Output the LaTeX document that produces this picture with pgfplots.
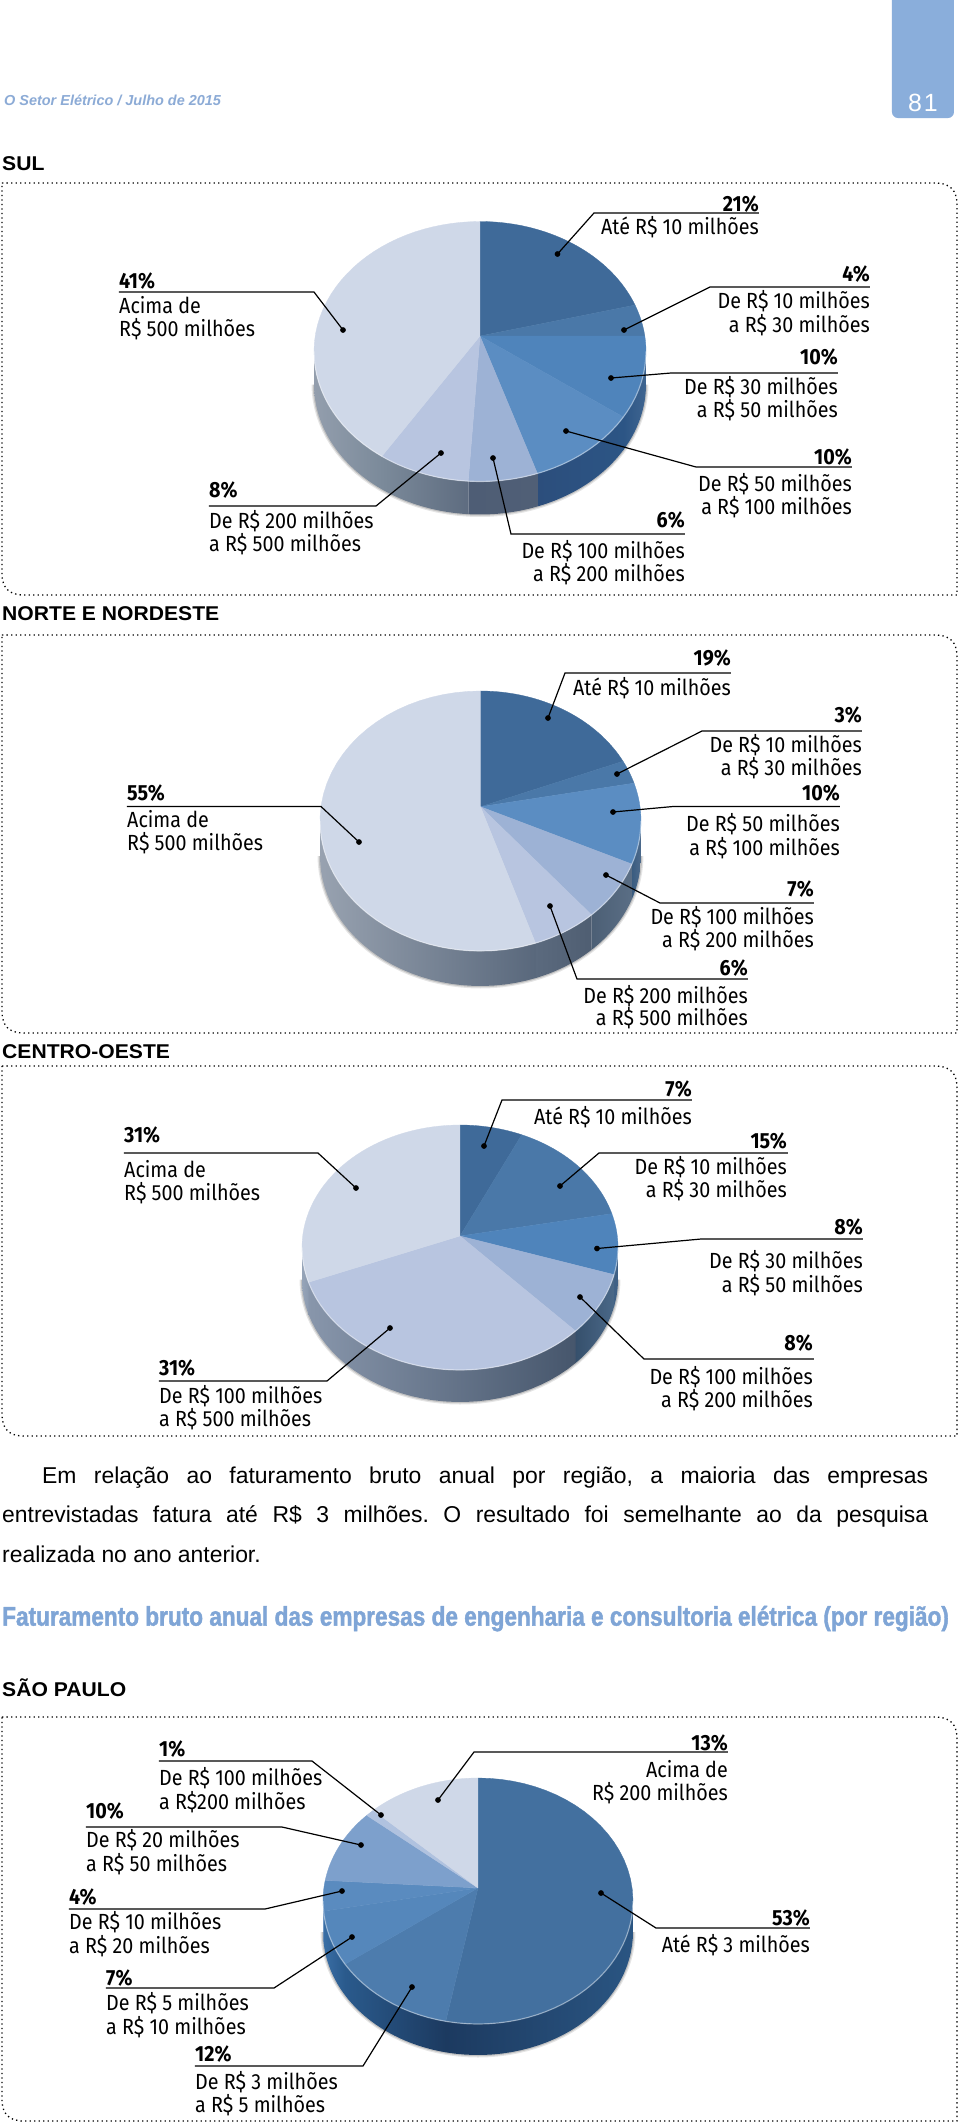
\documentclass[border=0pt]{standalone}
\usepackage{fontspec}
\usepackage{pgfplots}
\pgfplotsset{compat=1.18}
\setmainfont{Liberation Sans}
\newfontfamily\lf[FakeStretch=0.9]{Fira Sans}
\newfontfamily\hf[FakeStretch=0.84,FakeBold=1.5]{Liberation Sans}
\newfontfamily\headf[FakeStretch=1.06]{Liberation Sans}
\definecolor{tab}{HTML}{8AAEDB}
\definecolor{ttl}{HTML}{7FA5D6}
\definecolor{hdr}{HTML}{8CABD6}
% top faces
\definecolor{a1}{HTML}{3F6A99}\definecolor{a2}{HTML}{4A78A8}\definecolor{a3}{HTML}{4F84BB}
\definecolor{a4}{HTML}{5B8DC2}\definecolor{a5}{HTML}{9DB2D5}\definecolor{a6}{HTML}{B8C5E0}
\definecolor{a7}{HTML}{CFD8E8}
\definecolor{b1}{HTML}{43709F}\definecolor{b2}{HTML}{4D7CAD}\definecolor{b3}{HTML}{5587BB}
\definecolor{b4}{HTML}{5A8BBF}\definecolor{b5}{HTML}{7DA0CC}\definecolor{b6}{HTML}{B0C2DF}
\definecolor{b7}{HTML}{CFD8E8}
% walls
\definecolor{w1}{HTML}{2C5585}\definecolor{w2}{HTML}{3F6590}\definecolor{w3}{HTML}{2C4E7C}
\definecolor{w4}{HTML}{4E5D75}\definecolor{w5}{HTML}{505F76}\definecolor{w6}{HTML}{7B8A9A}
\definecolor{w7}{HTML}{5E6C80}\definecolor{w8}{HTML}{939EAD}
\definecolor{n1}{HTML}{3A5C80}\definecolor{n2}{HTML}{4D6B8C}\definecolor{n3}{HTML}{4C5F75}
\definecolor{n4}{HTML}{5A6E85}\definecolor{n5}{HTML}{5B6A7E}\definecolor{n6}{HTML}{4F5E72}
\definecolor{n7}{HTML}{98A2B0}\definecolor{n8}{HTML}{59687C}
\definecolor{c1}{HTML}{3F6085}\definecolor{c2}{HTML}{36506C}\definecolor{c3}{HTML}{4A6888}
\definecolor{c4}{HTML}{8896AB}\definecolor{c5}{HTML}{46566C}\definecolor{c6}{HTML}{96A4B8}
\definecolor{c7}{HTML}{8C9BB0}
\definecolor{s1}{HTML}{1C3A60}\definecolor{s2}{HTML}{2A5582}\definecolor{s3}{HTML}{2A5A8C}
\definecolor{s4}{HTML}{3A6EA5}\definecolor{s5}{HTML}{4A7CB4}
\newcommand\setpie[6]{\gdef\cx{#1}\gdef\cy{#2}\gdef\rx{#3}\gdef\ry{#4}\gdef\dd{#5}\gdef\dep{#6}}
\newcommand\calcpt[1]{%
  \pgfmathsetmacro\yy{cos(#1)}\pgfmathsetmacro\xx{sin(#1)}%
  \pgfmathsetmacro\den{1+\dd*\yy}%
  \pgfmathsetmacro\px{\cx+\rx*\xx*sqrt(1-\dd*\dd)/\den}%
  \pgfmathsetmacro\py{\cy-\ry*(\yy+\dd)/\den}%
}
\newcommand\wallslice[3]{%
  \pgfmathsetmacro\ta{\cum*3.6}\pgfmathsetmacro\tb{(\cum+#1)*3.6}%
  \pgfmathsetmacro\nc{\cum+#1}\xdef\cum{\nc}%
  \pgfmathsetmacro\tmin{acos(-\dd)}\pgfmathsetmacro\tmax{360-\tmin}%
  \pgfmathsetmacro\wa{max(\ta,\tmin)}\pgfmathsetmacro\wb{min(\tb,\tmax)}%
  \ifdim\wa pt<\wb pt
    \gdef\ptlist{}%
    \foreach \i in {0,...,30}{\pgfmathsetmacro\tht{\wa+(\wb-\wa)*\i/30}\calcpt{\tht}\xdef\ptlist{\ptlist (\px,\py)}}%
    \foreach \i in {30,...,0}{\pgfmathsetmacro\tht{\wa+(\wb-\wa)*\i/30}\calcpt{\tht}\pgfmathsetmacro\qy{\py+\dep}\xdef\ptlist{\ptlist (\px,\qy)}}%
    \edef\tmp{\noexpand\addplot[left color=#2,right color=#3,draw=none,forget plot] coordinates {\ptlist};}\tmp
  \fi
}
\newcommand\topslice[2]{%
  \pgfmathsetmacro\ta{\cum*3.6}\pgfmathsetmacro\tb{(\cum+#1)*3.6}%
  \pgfmathsetmacro\nc{\cum+#1}\xdef\cum{\nc}%
  \pgfmathsetmacro\ay{\cy-\ry*\dd}%
  \xdef\ptlist{(\cx,\ay)}%
  \foreach \i in {0,...,40}{\pgfmathsetmacro\tht{\ta+(\tb-\ta)*\i/40}\calcpt{\tht}\xdef\ptlist{\ptlist (\px,\py)}}%
  \edef\tmp{\noexpand\addplot[fill=#2,draw=#2,line width=0.3bp,forget plot] coordinates {\ptlist (\cx,\ay)};}\tmp
}
% #1 = vertical offset of the arc, #2 = options
\newcommand\lowerarc[2]{%
  \gdef\ptlist{}%
  \pgfmathsetmacro\tmin{acos(-\dd)}%
  \foreach \i in {0,...,50}{\pgfmathsetmacro\tht{\tmin+(360-2*\tmin)*\i/50}\calcpt{\tht}\pgfmathsetmacro\qy{\py+#1}\xdef\ptlist{\ptlist (\px,\qy)}}%
  \edef\tmp{\noexpand\addplot[#2,forget plot] coordinates {\ptlist};}\tmp
}
\newcommand\drawpie[1]{%
  \lowerarc{\dep}{black,opacity=0.10,line width=5bp}%
  \lowerarc{\dep}{black,opacity=0.15,line width=2.5bp}%
  \gdef\cum{0}%
  \foreach \v/\vc/\wl/\wr in {#1}{\wallslice{\v}{\wl}{\wr}}%
  \gdef\cum{0}%
  \foreach \v/\vc/\wl/\wr in {#1}{\topslice{\v}{\vc}}%
  \lowerarc{0}{white,opacity=0.4,line width=1.2bp}%
}
\newcommand\frm[2]{\draw[black,line width=1.3bp,dash pattern=on 1.3bp off 3.2bp]
  (2,#1) -- (935,#1) .. controls (950,#1) and (957,#1+7) .. (957,#1+22) -- (957,#2)
  -- (24,#2) .. controls (9,#2) and (2,#2-7) .. (2,#2-22) -- cycle;}
\newcommand\ldr[3]{%
  \addplot[black,line width=1.2bp,forget plot] coordinates {(#1)(#2)(#3)};
  \addplot[only marks,mark=*,mark size=2.6bp,black,forget plot] coordinates {(#1)};}
\newcommand\lab[8]{% side, x, pct, ypct, y1, t1, y2, t2
  \node[anchor=mid #1,inner sep=0pt,yshift=-5bp] at (#2,#4) {\lf\bfseries\fontsize{22}{22}\selectfont #3\%};
  \node[anchor=mid #1,inner sep=0pt,yshift=-5bp] at (#2,#5) {\lf\fontsize{22}{22}\selectfont #6};
  \node[anchor=mid #1,inner sep=0pt,yshift=-5bp] at (#2,#7) {\lf\fontsize{22}{22}\selectfont #8};}
\newcommand\reg[3]{\node[anchor=mid west,inner sep=0pt,yshift=-4bp] at (#1,#2) {\headf\bfseries\fontsize{20}{20}\selectfont #3};}
\begin{document}
\frenchspacing
\begin{tikzpicture}
\begin{axis}[scale only axis,width=960bp,height=2125bp,xmin=0,xmax=960,ymin=0,ymax=2125,y dir=reverse,axis lines=none]
\addplot[fill=white,draw=none,forget plot] coordinates {(0,0)(960,0)(960,2125)(0,2125)(0,0)};
% header
\fill[tab,rounded corners=6bp] (892,-20) rectangle (954,118);
\node[anchor=center,text=white,inner sep=0pt] at (923,103) {\fontsize{25}{25}\selectfont 8\hspace{2bp}1};
\node[anchor=mid west,text=hdr,inner sep=0pt,yshift=-3bp] at (4,100) {\fontsize{14.5}{14.5}\selectfont\bfseries\itshape O Setor Elétrico / Julho de 2015};
% frames
\frm{183}{595}\frm{635}{1033}\frm{1066}{1436}\frm{1717}{2121}
\reg{2}{164}{SUL}
\reg{2}{614}{NORTE E NORDESTE}
\reg{2}{1052}{CENTRO-OESTE}
\reg{2}{1690}{SÃO PAULO}
% SUL
\setpie{480}{351.5}{166}{130}{0.119}{33}
\drawpie{21/a1/a1/a1,4/a2/a2/a2,10/a3/w1/w2,10/a4/w3/w1,6/a5/w4/w5,8/a6/w6/w7,41/a7/w8/w6}
\ldr{557.5,254}{594,213}{759,213}
\ldr{624,330}{710,287}{870,287}
\ldr{611,378}{671,373}{838,373}
\ldr{566,431}{696,467}{852,467}
\ldr{493,458}{511,534}{685,534}
\ldr{441,453}{376,506}{209,506}
\ldr{343,330}{314,292}{119,292}
\lab{east}{759}{21}{204}{227}{Até R\$ 10 milhões}{227}{}
\lab{east}{870}{4}{274}{301}{De R\$ 10 milhões}{325}{a R\$ 30 milhões}
\lab{east}{838}{10}{357}{387}{De R\$ 30 milhões}{410}{a R\$ 50 milhões}
\lab{east}{852}{10}{457}{484}{De R\$ 50 milhões}{507}{a R\$ 100 milhões}
\lab{east}{685}{6}{520}{551}{De R\$ 100 milhões}{574}{a R\$ 200 milhões}
\lab{west}{209}{8}{490}{521}{De R\$ 200 milhões}{544}{a R\$ 500 milhões}
\lab{west}{119}{41}{281}{306}{Acima de}{329}{R\$ 500 milhões}
% NORTE E NORDESTE
\setpie{480.5}{821}{160.5}{130}{0.11}{35}
\drawpie{19/a1/a1/a1,3/a2/a2/a2,10/a4/n1/n2,7/a5/n3/n4,6/a6/n5/n6,55/a7/n7/n8}
\ldr{548,718}{565,673}{731,673}
\ldr{617,774}{702,731}{862,731}
\ldr{613,812}{673,806.5}{840,806.5}
\ldr{606,875}{660,903}{814,903}
\ldr{550,906}{577,979}{748,979}
\ldr{359,842}{321,806.5}{127,806.5}
\lab{east}{731}{19}{658}{688}{Até R\$ 10 milhões}{688}{}
\lab{east}{862}{3}{715}{745}{De R\$ 10 milhões}{767.5}{a R\$ 30 milhões}
\lab{east}{840}{10}{793}{824}{De R\$ 50 milhões}{847.5}{a R\$ 100 milhões}
\lab{east}{814}{7}{889}{917}{De R\$ 100 milhões}{940}{a R\$ 200 milhões}
\lab{east}{748}{6}{968}{996}{De R\$ 200 milhões}{1018}{a R\$ 500 milhões}
\lab{west}{127}{55}{793}{820}{Acima de}{843}{R\$ 500 milhões}
% CENTRO-OESTE
\setpie{460}{1247.5}{158}{122.5}{0.094}{32}
\drawpie{7/a1/a1/a1,15/a2/a2/a2,8/a3/c1/c1,8/a5/c2/c3,31/a6/c4/c5,31/a7/c6/c7}
\ldr{484,1146}{502,1100}{692,1100}
\ldr{560,1186}{599,1153}{788,1153}
\ldr{597,1248.5}{701,1239}{863,1239}
\ldr{580,1297}{644,1359}{814,1359}
\ldr{356,1188}{318,1153}{124,1153}
\ldr{390,1328}{327,1381}{159,1381}
\lab{east}{692}{7}{1089}{1117}{Até R\$ 10 milhões}{1117}{}
\lab{east}{787}{15}{1141}{1167}{De R\$ 10 milhões}{1190}{a R\$ 30 milhões}
\lab{east}{863}{8}{1227}{1261}{De R\$ 30 milhões}{1285}{a R\$ 50 milhões}
\lab{east}{813}{8}{1343}{1377}{De R\$ 100 milhões}{1400}{a R\$ 200 milhões}
\lab{west}{124}{31}{1135}{1170}{Acima de}{1193}{R\$ 500 milhões}
\lab{west}{159}{31}{1368}{1396}{De R\$ 100 milhões}{1419}{a R\$ 500 milhões}
% body text
\node[anchor=mid west,inner sep=0pt,yshift=-4bp] at (42,1477) {\fontsize{23}{23}\selectfont\makebox[886bp][s]{Em relação ao faturamento bruto anual por região, a maioria das empresas}};
\node[anchor=mid west,inner sep=0pt,yshift=-4bp] at (2,1515.5) {\fontsize{23}{23}\selectfont\makebox[926bp][s]{entrevistadas fatura até R\$ 3 milhões. O resultado foi semelhante ao da pesquisa}};
\node[anchor=mid west,inner sep=0pt,yshift=-4bp] at (2,1555.5) {\fontsize{23}{23}\selectfont realizada no ano anterior.};
\node[anchor=mid west,inner sep=0pt,text=ttl,yshift=-3bp] at (2,1620) {\hf\bfseries\fontsize{27}{27}\selectfont Faturamento bruto anual das empresas de engenharia e consultoria elétrica (por região)};
% SAO PAULO
\setpie{478}{1901}{155}{123}{0.106}{31}
\drawpie{53/b1/s1/s2,12/b2/s3/s1,7/b3/s4/s3,4/b4/s5/s4,10/b5/b5/b5,1/b6/b6/b6,13/b7/b7/b7}
\ldr{438,1800}{474,1752}{728,1752}
\ldr{601,1893}{656,1928}{810,1928}
\ldr{381,1815}{312,1761}{159,1761}
\ldr{361,1845}{282,1827}{86,1827}
\ldr{342,1891}{265,1909}{69,1909}
\ldr{352,1937}{274,1988}{106,1988}
\ldr{412,1987}{363,2066}{195,2066}
\lab{east}{728}{13}{1743}{1770}{Acima de}{1793}{R\$ 200 milhões}
\lab{east}{810}{53}{1918}{1945}{Até R\$ 3 milhões}{1945}{}
\lab{west}{159}{1}{1749}{1778}{De R\$ 100 milhões}{1802}{a R\$200 milhões}
\lab{west}{86}{10}{1811}{1840}{De R\$ 20 milhões}{1864}{a R\$ 50 milhões}
\lab{west}{69}{4}{1897}{1922}{De R\$ 10 milhões}{1946}{a R\$ 20 milhões}
\lab{west}{106}{7}{1978}{2003}{De R\$ 5 milhões}{2027}{a R\$ 10 milhões}
\lab{west}{195}{12}{2054}{2082}{De R\$ 3 milhões}{2105}{a R\$ 5 milhões}
\end{axis}
\end{tikzpicture}
\end{document}
